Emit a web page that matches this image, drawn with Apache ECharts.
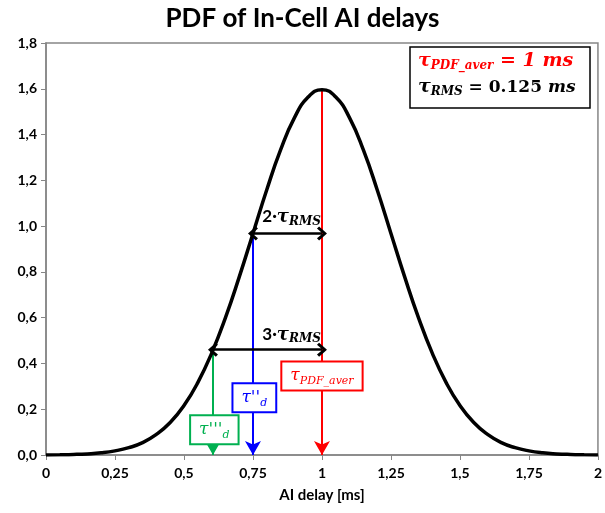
<!DOCTYPE html>
<html>
<head>
<meta charset="utf-8">
<script src="https://cdn.jsdelivr.net/npm/echarts@6/dist/echarts.min.js"></script>
<style>
  html, body { margin: 0; padding: 0; background: #fff; }
  #chart { width: 605px; height: 513px; }
</style>
</head>
<body>
<div id="chart"></div>
<script>
// curve (x in ms, pdf value)
var delayX = [0, 0.05, 0.1, 0.15, 0.2, 0.25, 0.3, 0.35, 0.4, 0.45, 0.5, 0.55, 0.6, 0.65, 0.7, 0.75, 0.8, 0.85, 0.9, 0.95,
  1, 1.05, 1.1, 1.15, 1.2, 1.25, 1.3, 1.35, 1.4, 1.45, 1.5, 1.55, 1.6, 1.65, 1.7, 1.75, 1.8, 1.85, 1.9, 1.95, 2];
var pdfY = [0.0005, 0.0012, 0.0024, 0.0049, 0.0095, 0.018, 0.032, 0.054, 0.09, 0.142, 0.216, 0.316, 0.444, 0.599, 0.777, 0.968, 1.159, 1.333, 1.473, 1.564,
  1.596, 1.564, 1.473, 1.333, 1.159, 0.968, 0.777, 0.599, 0.444, 0.316, 0.216, 0.142, 0.09, 0.054, 0.032, 0.018, 0.0095, 0.0049, 0.0024, 0.0012, 0.0005];

// marker positions
var averX = 1, averY = 1.596;
var tau2X = 0.75, tau2Y = 0.968;
var tau3X = 0.605, tau3Y = 0.46;

var xTicks = ['0', '0,25', '0,5', '0,75', '1', '1,25', '1,5', '1,75', '2'];

var labelFont = 'Lato, "Open Sans", sans-serif';
var mathFont = '"DejaVu Serif", "Liberation Serif", serif';
var chevron = 'path://M10,0 L20,11 L17,14 L10,6 L3,14 L0,11 Z';

var curve = [];
for (var i = 0; i < delayX.length; i++) {
  curve.push([delayX[i], pdfY[i]]);
}

function boxLabel(main, sub, color) {
  var r = {};
  r.m = { fontFamily: mathFont, fontStyle: 'italic', fontSize: 17, color: color };
  r.s = { fontFamily: mathFont, fontStyle: 'italic', fontSize: 11, color: color, padding: [10, 0, 0, 0] };
  return {
    show: true,
    formatter: '{m|' + main + '}{s|' + sub + '}',
    rich: r,
    backgroundColor: '#fff',
    borderColor: color,
    borderWidth: 2,
    padding: [3, 8, 3, 8]
  };
}

function rmsLabel(n) {
  return {
    show: true,
    formatter: '{n|' + n + '·}{m|τ}{s|RMS}',
    rich: {
      n: { fontFamily: labelFont, fontWeight: 'bold', fontSize: 17, color: '#000' },
      m: { fontFamily: mathFont, fontWeight: 'bold', fontStyle: 'italic', fontSize: 18, color: '#000' },
      s: { fontFamily: mathFont, fontWeight: 'bold', fontStyle: 'italic', fontSize: 12, color: '#000', padding: [9, 0, 0, 0] }
    }
  };
}

var chart = echarts.init(document.getElementById('chart'));
var option = {
  animation: false,
  title: {
    text: 'PDF of In-Cell AI delays',
    left: 'center',
    top: 1,
    textStyle: { fontFamily: labelFont, fontWeight: 'bold', fontSize: 26, color: '#000' }
  },
  grid: {
    left: 46, right: 4, top: 43, bottom: 58,
    show: true, borderColor: '#868686', borderWidth: 1.5
  },
  xAxis: {
    type: 'value', min: 0, max: 2, interval: 0.25,
    name: 'AI delay [ms]', nameLocation: 'middle', nameGap: 33,
    nameTextStyle: { fontFamily: labelFont, fontWeight: 'bold', fontSize: 15, color: '#000' },
    axisLine: { lineStyle: { color: '#868686', width: 1.5 } },
    axisTick: { show: true, inside: false, length: 5, lineStyle: { color: '#868686' } },
    splitLine: { show: false },
    axisLabel: {
      margin: 11,
      fontFamily: labelFont, fontWeight: 'bold', fontSize: 14, color: '#000',
      formatter: function (v) { return xTicks[Math.round(v / 0.25)]; }
    }
  },
  yAxis: {
    type: 'value', min: 0, max: 1.8, interval: 0.2,
    axisLine: { show: true, lineStyle: { color: '#868686', width: 1.5 } },
    axisTick: { show: true, length: 5, lineStyle: { color: '#868686' } },
    splitLine: { show: false },
    axisLabel: {
      margin: 9,
      fontFamily: labelFont, fontWeight: 'bold', fontSize: 14, color: '#000',
      formatter: function (v) { return v.toFixed(1).replace('.', ','); }
    }
  },
  series: [
    {
      type: 'line',
      data: curve,
      smooth: true,
      symbol: 'none',
      lineStyle: { color: '#000', width: 3.5 },
      z: 5
    },
    {
      // red vertical marker (average)
      type: 'line', data: [], symbol: 'none',
      markLine: {
        silent: true, animation: false,
        symbolSize: [12, 14],
        label: { show: false },
        lineStyle: { color: '#ff0000', width: 2, type: 'solid' },
        data: [[{ coord: [averX, averY], symbol: 'none' }, { coord: [averX, 0], symbol: 'arrow' }]]
      },
      markPoint: {
        symbol: 'rect', symbolSize: 0,
        data: [{ coord: [1, 0.345], label: boxLabel('τ', 'PDF_aver', '#ff0000') }]
      },
      z: 3
    },
    {
      type: 'line', data: [], symbol: 'none',
      markLine: {
        silent: true, animation: false,
        symbolSize: [12, 14],
        label: { show: false },
        lineStyle: { color: '#0000ff', width: 2, type: 'solid' },
        data: [[{ coord: [tau2X, tau2Y], symbol: 'none' }, { coord: [tau2X, 0], symbol: 'arrow' }]]
      },
      markPoint: {
        symbol: 'rect', symbolSize: 0,
        data: [{ coord: [0.755, 0.25], label: boxLabel("τ''", 'd', '#0000ff') }]
      },
      z: 3
    },
    {
      type: 'line', data: [], symbol: 'none',
      markLine: {
        silent: true, animation: false,
        symbolSize: [12, 14],
        label: { show: false },
        lineStyle: { color: '#00b050', width: 2, type: 'solid' },
        data: [[{ coord: [tau3X, tau3Y], symbol: 'none' }, { coord: [tau3X, 0], symbol: 'arrow' }]]
      },
      markPoint: {
        symbol: 'rect', symbolSize: 0,
        data: [{ coord: [0.61, 0.11], label: boxLabel("τ'''", 'd', '#00b050') }]
      },
      z: 4
    },
    {
      // black double arrows
      type: 'line', data: [], symbol: 'none',
      markLine: {
        silent: true, animation: false,
        symbol: [chevron, chevron],
        symbolSize: [14, 10],
        label: { show: false },
        lineStyle: { color: '#000', width: 2.5, type: 'solid' },
        data: [
          [{ coord: [tau2X, tau2Y] }, { coord: [averX, tau2Y] }],
          [{ coord: [tau3X, tau3Y] }, { coord: [averX, tau3Y] }]
        ]
      },
      markPoint: {
        symbol: 'rect', symbolSize: 0,
        data: [
          { coord: [0.89, 1.04], label: rmsLabel('2') },
          { coord: [0.89, 0.525], label: rmsLabel('3') }
        ]
      },
      z: 6
    }
  ],
  graphic: [
    {
      type: 'rect',
      shape: { x: 410, y: 47, width: 180, height: 61 },
      style: { fill: '#fff', stroke: '#000', lineWidth: 1.5 },
      z: 100
    },
    {
      type: 'text', left: 418, top: 52, z: 101,
      style: {
        text: '{m|τ}{s|PDF_aver}{e| = 1 ms}',
        rich: {
          m: { fontFamily: mathFont, fontWeight: 'bold', fontStyle: 'italic', fontSize: 19, fill: '#ff0000' },
          s: { fontFamily: mathFont, fontWeight: 'bold', fontStyle: 'italic', fontSize: 12, fill: '#ff0000', padding: [9, 0, 0, 0] },
          e: { fontFamily: mathFont, fontWeight: 'bold', fontStyle: 'italic', fontSize: 19, fill: '#ff0000' }
        }
      }
    },
    {
      type: 'text', left: 418, top: 78, z: 101,
      style: {
        text: '{m|τ}{s|RMS}{e| = 0.125 }{i|ms}',
        rich: {
          m: { fontFamily: mathFont, fontWeight: 'bold', fontStyle: 'italic', fontSize: 19, fill: '#000' },
          s: { fontFamily: mathFont, fontWeight: 'bold', fontStyle: 'italic', fontSize: 12, fill: '#000', padding: [9, 0, 0, 0] },
          e: { fontFamily: mathFont, fontWeight: 'bold', fontSize: 17, fill: '#000' },
          i: { fontFamily: mathFont, fontWeight: 'bold', fontStyle: 'italic', fontSize: 17, fill: '#000' }
        }
      }
    }
  ]
};
chart.setOption(option);
</script>
</body>
</html>
